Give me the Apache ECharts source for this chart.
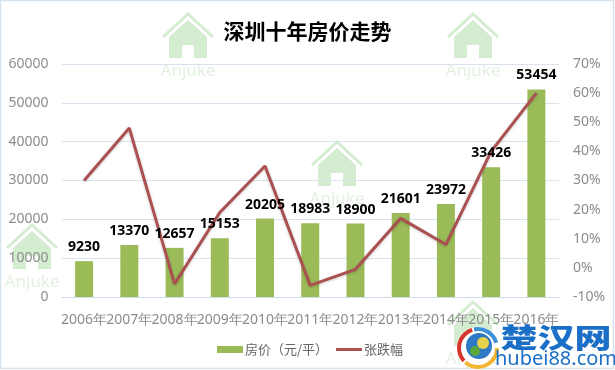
<!DOCTYPE html>
<html><head><meta charset="utf-8">
<style>html,body{margin:0;padding:0;background:#fff}#c{width:615px;height:370px}</style>
<script src="https://cdn.jsdelivr.net/npm/echarts@6/dist/echarts.min.js"></script>
</head><body><div id="c"></div>
<script>
const years = ['2006年','2007年','2008年','2009年','2010年','2011年','2012年','2013年','2014年','2015年','2016年'];
const prices = [9230,13370,12657,15153,20205,18983,18900,21601,23972,33426,53454];
const changes = [30,48,-5.5,19,35,-6,-0.5,17,8,40,60];
const titleText = '深圳十年房价走势';
const priceName = '房价（元/平）';
const changeName = '张跌幅';
const marks = [[188,14],[473,14],[337,142],[32,225],[473,302]];

const wm = '#d4ecd0';
function house(x, y) {
  return [
    {type:'polyline',silent:true,z:-1,shape:{points:[[x-25,y+23],[x,y],[x+25,y+23]]},style:{stroke:wm,lineWidth:3,fill:null}},
    {type:'polygon',silent:true,z:-1,shape:{points:[[x-19,y+23],[x,y+6],[x+19,y+23],[x+19,y+44],[x+6,y+44],[x+6,y+31],[x-6,y+31],[x-6,y+44],[x-19,y+44]]},style:{fill:wm}},
    {type:'text',silent:true,z:-1,style:{x:x,y:y+57,text:'Anjuke',fill:'#e3f1e0',font:'17px "Noto Sans"',align:'center',verticalAlign:'middle'}}
  ];
}
const logo = [
  {type:'circle',shape:{cx:478,cy:348,r:21},style:{fill:'#fff'},z:5,silent:true},
  {type:'arc',shape:{cx:478,cy:348,r:19,startAngle:2.4,endAngle:4.4},style:{stroke:'#d8342b',lineWidth:4,fill:null},z:6,silent:true},
  {type:'arc',shape:{cx:478,cy:348,r:19,startAngle:4.5,endAngle:6.0},style:{stroke:'#3b8fd6',lineWidth:4,fill:null},z:6,silent:true},
  {type:'arc',shape:{cx:478,cy:348,r:19,startAngle:0,endAngle:2.3},style:{stroke:'#f2b632',lineWidth:4,fill:null},z:6,silent:true},
  {type:'circle',shape:{cx:479,cy:346,r:13},style:{fill:'#2f78c4'},z:6,silent:true},
  {type:'circle',shape:{cx:483,cy:343,r:6},style:{fill:'#e6d24a'},z:7,silent:true},
  {type:'circle',shape:{cx:475,cy:351,r:5},style:{fill:'#5aa83c'},z:7,silent:true},
  {type:'text',silent:true,z:6,x:556,y:338,scaleY:0.74,style:{x:0,y:0,text:'楚汉网',fill:'#1b6fc6',font:'900 37px "Noto Sans CJK SC"',align:'center',verticalAlign:'middle'}},
  {type:'text',silent:true,z:6,style:{x:556,y:359,text:'hubei88.com',fill:'#1b6fc6',font:'20px "Noto Sans"',align:'center',verticalAlign:'middle'}}
];
const chart = echarts.init(document.getElementById('c'),null,{renderer:'canvas'});
const axisLabel = {color:'#8c8c8c',fontSize:14,fontFamily:'"Noto Sans"'};
const legendText = {color:'#666',fontSize:13,fontFamily:'"Noto Sans CJK SC"',padding:[0,0,0,-3]};
chart.setOption({
  animation:false,
  backgroundColor:'#fff',
  title:{text:titleText,left:'center',top:16,textStyle:{fontSize:21,fontWeight:'bold',color:'#000',fontFamily:'"Noto Sans CJK SC"'}},
  graphic:[
    {type:'rect',silent:true,z:-2,shape:{x:0.5,y:0.5,width:613,height:368},style:{fill:null,stroke:'#d6e2ee',lineWidth:1.5}},
    ...marks.flatMap(m=>house(m[0],m[1])),
    ...logo
  ],
  legend:[
    {left:212,top:338,itemWidth:26,itemHeight:7,textStyle:legendText,data:[{name:priceName,icon:'rect'}]},
    {left:331,top:338,itemWidth:26,itemHeight:3,textStyle:legendText,data:[{name:changeName,icon:'rect'}]}
  ],
  grid:{left:61.5,right:56,top:64,bottom:73},
  xAxis:{type:'category',data:years,
    axisLine:{lineStyle:{color:'#cfdbe8'}},axisTick:{show:false},
    axisLabel:{...axisLabel,interval:0,margin:16,hideOverlap:false}},
  yAxis:[
    {type:'value',min:0,max:60000,interval:10000,axisLine:{show:false},axisTick:{show:false},
     splitLine:{lineStyle:{color:'#d9e3ee'}},axisLabel:{...axisLabel,margin:13,formatter:v=>String(v)}},
    {type:'value',min:-10,max:70,interval:10,axisLine:{show:false},axisTick:{show:false},
     splitLine:{show:false},axisLabel:{...axisLabel,margin:14,formatter:'{value}%'}}
  ],
  series:[
    {name:priceName,type:'bar',data:prices,barWidth:18,barGap:'-100%',itemStyle:{color:'#9bbb59'},z:2},
    {name:changeName,type:'line',yAxisIndex:1,data:changes,symbol:'none',smooth:false,z:3,
     itemStyle:{color:'#aa5050'},
     lineStyle:{color:'#aa5050',width:3,shadowColor:'rgba(0,0,0,0.2)',shadowBlur:3,shadowOffsetY:1}},
    {name:'标签',type:'bar',data:prices,barWidth:18,barGap:'-100%',itemStyle:{color:'transparent'},z:4,silent:true,
     label:{show:true,position:'top',distance:7,color:'#000',fontWeight:'bold',fontSize:14,fontFamily:'"Noto Sans"',
       formatter:p=>String(p.value)}}
  ]
});
</script></body></html>
